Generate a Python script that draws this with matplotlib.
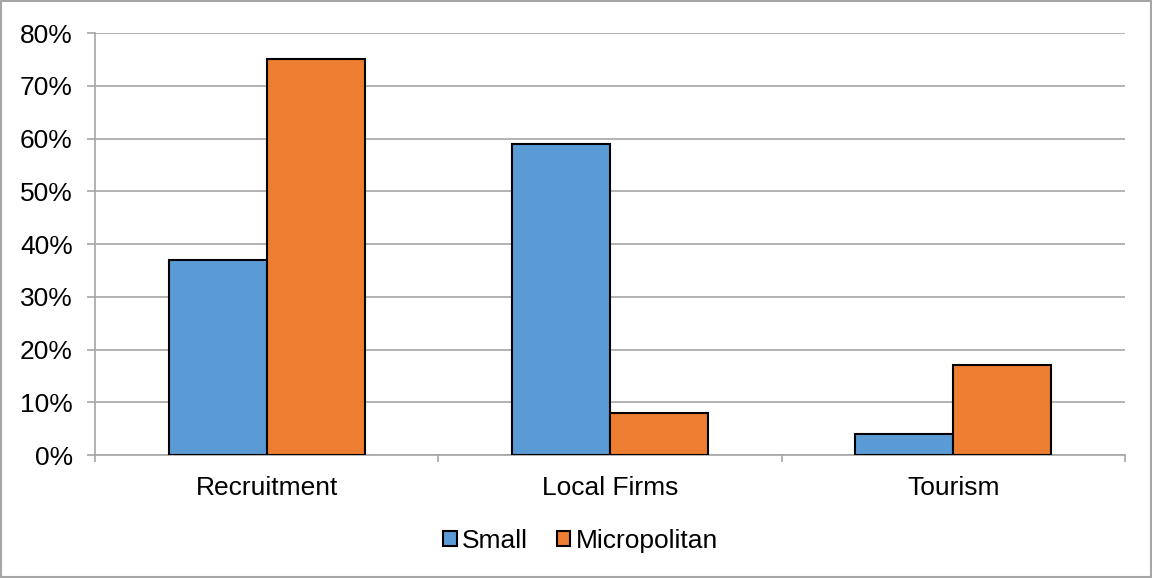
import matplotlib.pyplot as plt
import numpy as np
from matplotlib.ticker import PercentFormatter

# Dữ liệu
categories = ['Recruitment', 'Local Firms', 'Tourism']
small = [37, 59, 4]
micropolitan = [75, 8, 17]
yticks = [0, 10, 20, 30, 40, 50, 60, 70, 80]

plt.rcParams['font.family'] = ['Liberation Sans', 'DejaVu Sans']

fig = plt.figure(figsize=(11.52, 5.78), dpi=100)
ax = fig.add_axes([0.0825, 0.2128, 0.8941, 0.7301])

x = np.arange(len(categories))
w = 0.2855
ax.bar(x - w / 2, small, w, color='#5b9bd5', edgecolor='black', linewidth=1.5, label='Small', zorder=3)
ax.bar(x + w / 2, micropolitan, w, color='#ed7d31', edgecolor='black', linewidth=1.5, label='Micropolitan', zorder=3)

ax.set_xlim(-0.5, 2.5)
ax.set_ylim(0, 80)
ax.set_yticks(yticks)
ax.yaxis.set_major_formatter(PercentFormatter(decimals=0))
ax.yaxis.grid(True, color='#a6a6a6', linewidth=1.2, zorder=0)

# Trục x: vạch chia ở ranh giới nhóm, nhãn ở giữa
ax.set_xticks([-0.5, 0.5, 1.5, 2.5])
ax.set_xticklabels([])
ax.set_xticks(x, minor=True)
ax.set_xticklabels(categories, minor=True)
ax.tick_params(axis='x', which='minor', length=0, labelsize=19, pad=15)
ax.tick_params(axis='x', which='major', length=5, color='#a6a6a6', width=1.2)
ax.tick_params(axis='y', length=6, color='#a6a6a6', width=1.2, labelsize=19, pad=10)

for s in ['top', 'right']:
    ax.spines[s].set_visible(False)
for s in ['left', 'bottom']:
    ax.spines[s].set_color('#a6a6a6')
    ax.spines[s].set_linewidth(1.2)

fig.legend(loc='center', bbox_to_anchor=(0.504, 0.064), ncol=2, frameon=False,
           fontsize=19, handlelength=0.5, handleheight=0.5, handletextpad=0.2, columnspacing=1.1)

# Viền quanh hình
fig.patches.append(plt.Rectangle((0.001, 0.001), 0.998, 0.997, transform=fig.transFigure,
                                 fill=False, edgecolor='#a6a6a6', linewidth=1.5))

fig.savefig('out.png', dpi=100)
